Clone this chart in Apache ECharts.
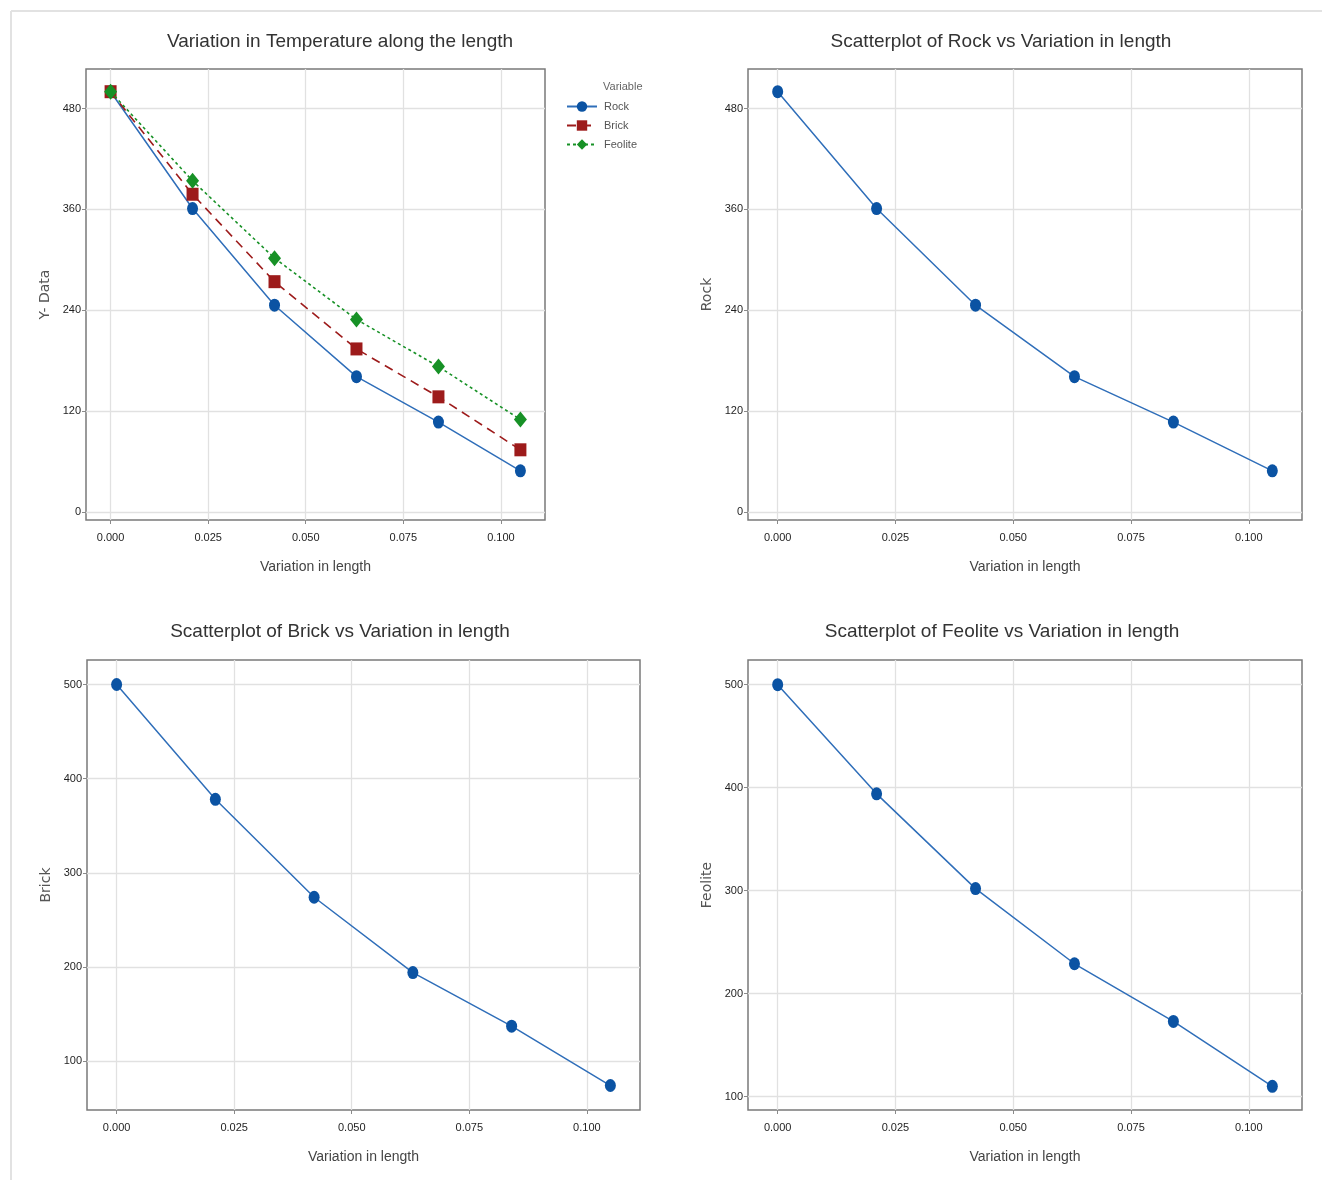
<!DOCTYPE html>
<html>
<head>
<meta charset="utf-8">
<title>Variation in Temperature along the length</title>
<script src="https://cdn.jsdelivr.net/npm/echarts@6/dist/echarts.min.js"></script>
<style>
  html, body { margin: 0; padding: 0; background: #ffffff; }
  #chart { width: 1322px; height: 1180px; }
</style>
</head>
<body>
<div id="chart"></div>
<script>
// Distance along the length (x) and temperature readings per material
const lengthVar = [0, 0.021, 0.042, 0.063, 0.084, 0.105];
const rock = [500, 361, 246, 161, 107, 49];
const brick = [500, 378, 274, 194, 137, 74];
const feolite = [500, 394, 302, 229, 173, 110];

// Tick labels
const xTicks = [0, 0.025, 0.05, 0.075, 0.1];
const yTicksTemp = [0, 120, 240, 360, 480];
const yTicksHundreds = [100, 200, 300, 400, 500];

const FONT_TEXT = "'Liberation Sans', Arial, sans-serif";
const FONT_NAME = "'DejaVu Sans', 'Liberation Sans', sans-serif";

const BLUE_MARK = '#0b53a3';
const BLUE_LINE = '#2f6eb9';
const RED = '#9d1b1b';
const GREEN = '#179126';

const pairs = (ys) => lengthVar.map((x, i) => [x, ys[i]]);

const grids = [
  { left: 86, top: 69, width: 459, height: 451 },
  { left: 748, top: 69, width: 554, height: 451 },
  { left: 87, top: 660, width: 553, height: 450 },
  { left: 748, top: 660, width: 554, height: 450 }
].map(g => Object.assign({
  show: true, borderColor: '#7a7a7a', borderWidth: 1.5, backgroundColor: '#ffffff'
}, g));

function makeX(gridIndex) {
  return {
    type: 'value', gridIndex, min: -0.0063, max: 0.1113,
    name: 'Variation in length', nameLocation: 'middle', nameGap: 40,
    nameTextStyle: { fontFamily: FONT_TEXT, fontSize: 14, color: '#444' },
    axisLine: { show: false, onZero: false },
    axisTick: { show: true, customValues: xTicks, length: 4, inside: false, lineStyle: { color: '#8a8a8a' } },
    axisLabel: { customValues: xTicks, formatter: v => v.toFixed(3), margin: 12,
                 fontFamily: FONT_TEXT, fontSize: 11, color: '#1e1e1e' },
    splitLine: { show: true, lineStyle: { color: '#e1e1e1', width: 1.3 } }
  };
}

function makeY(gridIndex, name, min, max, ticks) {
  return {
    type: 'value', gridIndex, min, max,
    name, nameLocation: 'middle', nameGap: 34, nameRotate: 90,
    nameTextStyle: { fontFamily: FONT_NAME, fontSize: 14, color: '#555' },
    axisLine: { show: false, onZero: false },
    axisTick: { show: true, customValues: ticks, length: 4, inside: false, lineStyle: { color: '#8a8a8a' } },
    axisLabel: { customValues: ticks, margin: 5, fontFamily: FONT_TEXT, fontSize: 11, color: '#1e1e1e' },
    splitLine: { show: true, lineStyle: { color: '#e1e1e1', width: 1.3 } }
  };
}

function titleAt(text, cx, top) {
  return {
    text, left: cx, top, textAlign: 'center', padding: 0,
    textStyle: { fontFamily: FONT_TEXT, fontSize: 19, fontWeight: 'normal', color: '#333' }
  };
}

function scatterLine(name, data, idx) {
  return {
    name, type: 'line', xAxisIndex: idx, yAxisIndex: idx, data,
    symbol: 'circle', symbolSize: [11, 13],
    itemStyle: { color: BLUE_MARK },
    lineStyle: { color: BLUE_LINE, width: 1.5 },
    animation: false, silent: true
  };
}

const option = {
  animation: false,
  title: [
    titleAt('Variation in Temperature along the length', 340, 32),
    titleAt('Scatterplot of Rock vs Variation in length', 1001, 32),
    titleAt('Scatterplot of Brick vs Variation in length', 340, 622),
    titleAt('Scatterplot of Feolite vs Variation in length', 1002, 622),
    { text: 'Variable', left: 603, top: 81, padding: 0,
      textStyle: { fontFamily: FONT_TEXT, fontSize: 11, fontWeight: 'normal', color: '#666' } }
  ],
  legend: {
    data: ['Rock', 'Brick', 'Feolite'],
    orient: 'vertical', left: 566, top: 101, padding: 0,
    itemWidth: 30, itemHeight: 13, itemGap: 8,
    textStyle: { fontFamily: FONT_TEXT, fontSize: 11, color: '#555', padding: [0, 0, 0, 2] },
    selectedMode: false
  },
  grid: grids,
  xAxis: [makeX(0), makeX(1), makeX(2), makeX(3)],
  yAxis: [
    makeY(0, 'Y- Data', -9.5, 527, yTicksTemp),
    makeY(1, 'Rock', -9.5, 527, yTicksTemp),
    makeY(2, 'Brick', 48, 526, yTicksHundreds),
    makeY(3, 'Feolite', 87, 524, yTicksHundreds)
  ],
  series: [
    {
      name: 'Rock', type: 'line', xAxisIndex: 0, yAxisIndex: 0, data: pairs(rock),
      symbol: 'circle', symbolSize: [11, 13], z: 3,
      itemStyle: { color: BLUE_MARK },
      lineStyle: { color: BLUE_LINE, width: 1.5, type: 'solid' }
    },
    {
      name: 'Brick', type: 'line', xAxisIndex: 0, yAxisIndex: 0, data: pairs(brick),
      symbol: 'rect', symbolSize: [12, 13], z: 4,
      itemStyle: { color: RED },
      lineStyle: { color: RED, width: 1.6, type: [9, 6] }
    },
    {
      name: 'Feolite', type: 'line', xAxisIndex: 0, yAxisIndex: 0, data: pairs(feolite),
      symbol: 'diamond', symbolSize: [13, 16], z: 5,
      itemStyle: { color: GREEN },
      lineStyle: { color: GREEN, width: 1.6, type: [3, 3] }
    },
    scatterLine('Rock ', pairs(rock), 1),
    scatterLine('Brick ', pairs(brick), 2),
    scatterLine('Feolite ', pairs(feolite), 3)
  ],
  graphic: [
    // light outer frame along the top and left edge
    { type: 'line', shape: { x1: 11, y1: 11, x2: 1322, y2: 11 }, style: { stroke: '#e2e2e2', lineWidth: 2 }, silent: true },
    { type: 'line', shape: { x1: 11, y1: 11, x2: 11, y2: 1180 }, style: { stroke: '#e2e2e2', lineWidth: 2 }, silent: true }
  ]
};

const chart = echarts.init(document.getElementById('chart'), null, { renderer: 'canvas' });
chart.setOption(option);
</script>
</body>
</html>
